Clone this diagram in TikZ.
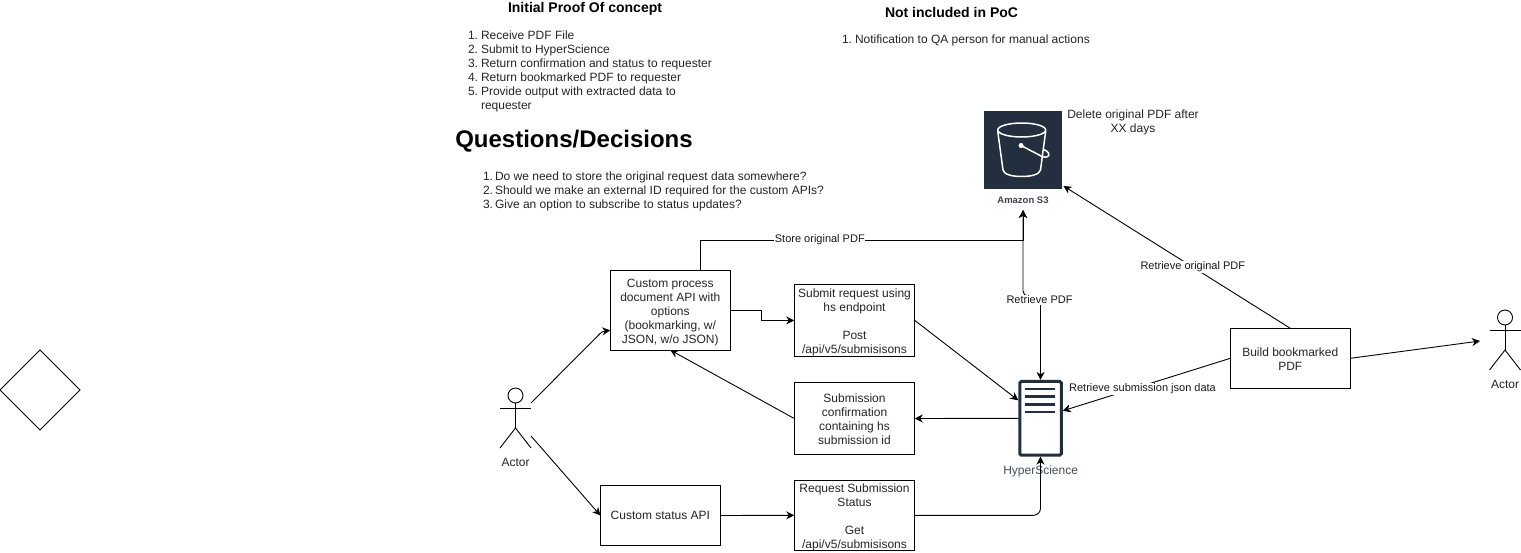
\documentclass[tikz,border=0pt]{standalone}
\usepackage{fontspec}
\setmainfont{Liberation Sans}
\usetikzlibrary{arrows.meta}
\definecolor{awsdark}{HTML}{232F3E}
\newcommand{\topgap}[1]{\rule{0pt}{#1pt}}
\tikzset{
  x=1pt,y=-1pt,
  every node/.style={inner sep=0pt,outer sep=0pt,text=black!85},
  boxnode/.style={draw=black,line width=0.9pt,align=center,font=\fontsize{12}{14}\selectfont,text=black!85,fill=white},
  plaintext/.style={align=left,anchor=north west,font=\fontsize{12}{14}\selectfont,text=black!85},
  centertext/.style={align=center,font=\fontsize{12}{14}\selectfont,text=black!85},
  heading/.style={font=\bfseries\fontsize{14}{16}\selectfont,text=black},
  flow/.style={draw=black,line width=0.9pt,-{Stealth[length=8pt,width=8pt,inset=2.5pt]}},
  bothflow/.style={draw=black,line width=0.9pt,{Stealth[length=8pt,width=8pt,inset=2.5pt]}-{Stealth[length=8pt,width=8pt,inset=2.5pt]}},
  edgelabel/.style={fill=white,font=\fontsize{11}{13}\selectfont,text=black!90,inner xsep=0.5pt,inner ysep=1pt},
  actorline/.style={draw=black,line width=0.9pt},
  bucketline/.style={draw=white,line width=1.5pt,line cap=round,line join=round},
  hsbar/.style={draw=awsdark,line width=2.5pt}
}
\begin{document}
\begin{tikzpicture}
\useasboundingbox (0,0) rectangle (1521,552);
\fill[white] (0,0) rectangle (1521,552);

% stand-alone diamond
\node[minimum width=80pt,minimum height=80pt] (dia) at (40,390) {};
\draw[line width=0.9pt] (dia.west) -- (dia.north) -- (dia.east) -- (dia.south) -- cycle;

% headings and lists
\node[heading] (hpoc) at (585,9) {Initial Proof Of concept};
\node[heading] (hnot) at (951.5,12.5) {Not included in PoC};
\node[font=\bfseries\fontsize{24}{28}\selectfont,text=black] (hq) at (574,141.5) {Questions/Decisions};
\node[plaintext] (l1) at (468,29.5) {\strut 1.\\2.\\3.\\4.\\5.};
\node[plaintext] (l2) at (481,29.5) {\strut Receive PDF File\\Submit to HyperScience\\Return confirmation and status to requester\\Return bookmarked PDF to requester\\Provide output with extracted data to\\requester};
\node[plaintext] (q1) at (483,171) {\strut 1.\\2.\\3.};
\node[plaintext] (q2) at (495,171) {\strut Do we need to store the original request data somewhere?\\Should we make an external ID required for the custom APIs?\\Give an option to subscribe to status updates?};
\node[plaintext] (n1) at (842,33.5) {\strut 1.};
\node[plaintext] (n2) at (855,33.5) {\strut Notification to QA person for manual actions};
\node[centertext] (del) at (1133,122) {Delete original PDF after\\XX days};

% boxes
\node[boxnode,minimum width=120pt,minimum height=79.5pt] (proc) at (670.3,310.3) {\topgap{12.6}Custom process\\document API with\\options\\(bookmarking, w/\\JSON, w/o JSON)};
\node[boxnode,minimum width=120.5pt,minimum height=72pt] (subm) at (854.5,320.4) {\topgap{12.6}Submit request using\\hs endpoint\\[14pt]Post\\/api/v5/submisisons};
\node[boxnode,minimum width=120.5pt,minimum height=72pt] (conf) at (854.5,418.5) {\topgap{9.6}Submission\\confirmation\\containing hs\\submission id};
\node[boxnode,inner ysep=-3pt,minimum width=120.5pt,minimum height=70pt] (reqs) at (854.5,515.3) {\topgap{12.6}Request Submission\\Status\\[14pt]Get\\/api/v5/submisisons};
\node[boxnode,minimum width=120pt,minimum height=60pt] (stat) at (660.4,515.5) {Custom status API};
\node[boxnode,minimum width=120pt,minimum height=60pt] (bld) at (1290.3,358.3) {\topgap{10.6}Build bookmarked\\PDF};

% actors
\node[minimum width=31pt,minimum height=60pt] (actL) at (515.5,418) {};
\node[minimum width=31pt,minimum height=60pt] (actR) at (1505,340) {};
\foreach \a in {actL,actR}{
  \draw[actorline] ([yshift=-7.5pt]\a.north) circle[radius=7.5pt];
  \draw[actorline] ([yshift=-15pt]\a.north) -- ([yshift=-40pt]\a.north);
  \draw[actorline] ([yshift=-20pt]\a.north west) -- ([yshift=-20pt]\a.north east);
  \draw[actorline] (\a.south west) -- ([yshift=-40pt]\a.north) -- (\a.south east);
}
\node[centertext] (actLt) at (515.5,462) {Actor};
\node[centertext] (actRt) at (1505,384.5) {Actor};

% S3
\node[fill=awsdark,minimum width=78pt,minimum height=78pt] (s3) at (1023,150) {};
\node[font=\bfseries\fontsize{9.5}{11}\selectfont,text=awsdark!90] (s3t) at (1023,200.5) {Amazon S3};
\coordinate (s3in) at (1023,210);
\draw[bucketline] (1021.7,130) ellipse[x radius=24pt,y radius=7pt];
\draw[bucketline] (997.7,131) -- (1003,170) .. controls (1004,174.5) and (1012,176.5) .. (1021.7,176.5) .. controls (1031,176.5) and (1039.5,174.5) .. (1040.5,170) -- (1045.7,131);
\fill[white] (1021,145.5) circle[radius=2.5pt];
\draw[bucketline] (1021,145.5) -- (1042,156.5) .. controls (1047,158.5) and (1050,156) .. (1048.5,153) .. controls (1047.5,151) and (1045,150) .. (1043.5,149.5);

% HyperScience
\node[draw=awsdark,line width=3pt,outer sep=1.5pt,minimum width=41.5pt,minimum height=73.7pt,rounded corners=1.5pt] (hs) at (1040.5,418.3) {};
\draw[hsbar] (1025.3,389) -- (1055,389);
\draw[hsbar] (1025.3,396.7) -- (1055,396.7);
\draw[hsbar] (1025.3,404.3) -- (1055,404.3);
\draw[hsbar] (1025.3,412) -- (1055,412);
\node[font=\fontsize{12}{14}\selectfont,text=awsdark!85] (hst) at (1040.6,471) {HyperScience};

% connectors
\draw[flow,rounded corners=3pt] ([yshift=15pt]actL.east) -- ([xshift=-8pt,yshift=-21pt]proc.west) -- ([yshift=-20pt]proc.west);
\draw[flow] ([yshift=-18pt]actL.east) -- (stat.west);
\draw[flow] (proc.east) -- ++(31.5,0) |- (subm.west);
\draw[flow] (conf.west) -- (proc.south);
\draw[flow] (hs.west) -- (conf.east);
\draw[flow] (subm.east) -- ([yshift=18pt]hs.west);
\draw[flow] (stat.east) -- (reqs.west);
\draw[flow,rounded corners=7pt] (reqs.east) -| (hs.south);
\draw[flow] ([xshift=30.2pt]proc.north) |- node[edgelabel,pos=0.685] (lstore) {Store original PDF} (1023,240) -- (s3in);
\draw[bothflow,rounded corners=5pt] (s3in) -- (1023,296) -- (1040.5,296) -- (hs.north);
\node[edgelabel] (lret) at (1039.5,300) {Retrieve PDF};
\draw[flow] (bld.north) -- node[edgelabel,pos=0.43] (lorig) {Retrieve original PDF} ([xshift=1.5pt,yshift=3pt]s3.south east);
\draw[flow] (bld.west) -- ([yshift=7.5pt]hs.east);
\node[edgelabel] (ljson) at (1142.5,389) {Retrieve submission json data};
\draw[flow] (bld.east) -- ([xshift=-9.5pt,yshift=-1pt]actR.west);
\end{tikzpicture}
\end{document}
